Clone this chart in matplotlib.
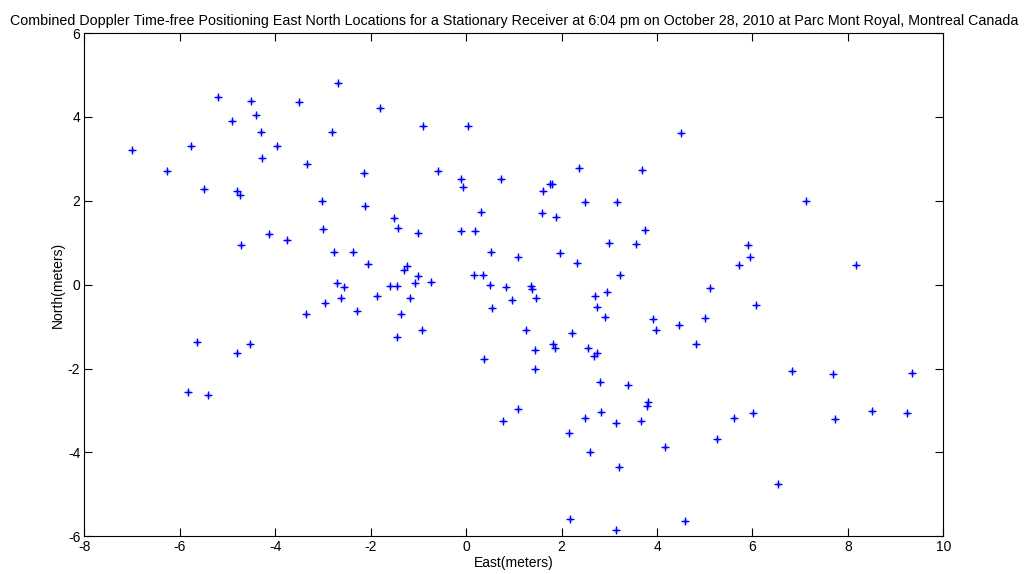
import matplotlib
matplotlib.use("Agg")
import matplotlib.pyplot as plt

plt.rcParams['font.family'] = ['Liberation Sans', 'DejaVu Sans']
plt.rcParams['axes.unicode_minus'] = False

# east / north position fixes (meters)
east = [-2.69, -5.20, -4.51, -3.50, -4.41, -4.91, -4.31, -2.82, -7.00, -5.77,
        -3.97, -4.27, -3.33, -2.15, -6.27, -5.50, -4.80, -4.74, -3.02, -2.12,
        -3.01, -4.13, -3.76, -4.71, -2.76, -2.37, -2.05, -2.71, -2.55,
        -1.81, -0.91, 0.03, -0.58, -0.11, -0.06, 0.74, 2.36, 3.68, 1.60,
        1.76, 1.80, 2.48, 3.16, -1.51, -1.42, -1.01, 0.32, -0.11, 0.19,
        1.58, 1.89, 3.75, 2.99, 3.55, 0.53, 1.08, 1.96, 2.32, -1.25,
        -1.31, -1.00, -1.08, -0.74, 0.17, 0.36, 3.23, -1.60, -1.46, 0.49,
        0.83, 1.35,
        4.51, 7.13, 5.91, 5.94, 5.71, 8.16, 5.10,
        -2.62, -2.95, -3.35, -2.28, -5.64, -4.53, -4.81, -5.83, -5.42,
        -1.86, -1.17, -1.36, -0.93, -1.44, 1.38, 0.96, 1.46, 0.55, 2.70,
        2.95, 2.75, 2.92, 3.92, 3.98, 1.25, 2.21, 1.82, 1.86, 1.44,
        2.55, 2.67, 2.75, 0.38, 1.44, 2.81, 3.40, 3.82, 3.78, 1.08,
        0.78, 2.49, 2.83, 3.13, 3.67, 2.15, 2.60, 3.21, 2.17, 3.13,
        6.08, 4.46, 5.00, 4.82, 6.83, 7.68, 9.35, 8.51, 7.74, 9.24,
        5.62, 6.01, 5.25, 4.17, 6.53, 4.58]
north = [4.81, 4.47, 4.38, 4.35, 4.04, 3.89, 3.65, 3.65, 3.22, 3.30,
         3.30, 3.01, 2.87, 2.66, 2.71, 2.28, 2.24, 2.13, 2.00, 1.88,
         1.32, 1.21, 1.07, 0.95, 0.77, 0.77, 0.49, 0.04, -0.06,
         4.22, 3.78, 3.78, 2.70, 2.53, 2.32, 2.51, 2.79, 2.74, 2.24,
         2.40, 2.40, 1.98, 1.98, 1.58, 1.35, 1.23, 1.73, 1.29, 1.29,
         1.72, 1.61, 1.31, 1.00, 0.98, 0.77, 0.65, 0.75, 0.52, 0.45,
         0.34, 0.20, 0.05, 0.07, 0.24, 0.23, 0.22, -0.03, -0.04, -0.01,
         -0.06, -0.04,
         3.62, 2.00, 0.94, 0.67, 0.46, 0.47, -0.09,
         -0.33, -0.44, -0.71, -0.63, -1.36, -1.42, -1.64, -2.55, -2.62,
         -0.27, -0.33, -0.71, -1.07, -1.25, -0.10, -0.36, -0.31, -0.56, -0.27,
         -0.17, -0.53, -0.76, -0.83, -1.09, -1.09, -1.15, -1.41, -1.52, -1.56,
         -1.52, -1.71, -1.62, -1.78, -2.00, -2.33, -2.39, -2.79, -2.90, -2.97,
         -3.26, -3.18, -3.04, -3.29, -3.24, -3.53, -3.99, -4.35, -5.58, -5.84,
         -0.49, -0.96, -0.80, -1.41, -2.07, -2.13, -2.11, -3.01, -3.21, -3.07,
         -3.17, -3.07, -3.69, -3.86, -4.75, -5.64]

xticks = list(range(-8, 11, 2))
yticks = list(range(-6, 7, 2))

fig = plt.figure(figsize=(10.25, 5.74), dpi=100)
ax = fig.add_axes([0.0824, 0.0657, 0.8379, 0.8768])

# light asterisk: solid plus with faint diagonal arms
ax.plot(east, north, linestyle='none', marker='x', color='blue',
        markersize=3.5, markeredgewidth=0.8, alpha=0.35)
ax.plot(east, north, linestyle='none', marker='+', color='blue',
        markersize=6, markeredgewidth=1.0)

ax.set_xlim(-8, 10)
ax.set_ylim(-6, 6)
ax.set_xticks(xticks)
ax.set_yticks(yticks)
ax.tick_params(direction='in', top=True, right=True, length=6, width=0.8,
               labelsize=10, colors='black', pad=3)
for s in ax.spines.values():
    s.set_linewidth(0.8)

ax.set_xlabel('East(meters)', fontsize=10, labelpad=1)
ax.set_ylabel('North(meters)', fontsize=10, labelpad=2)
ax.set_title('Combined Doppler Time-free Positioning East North Locations for a '
             'Stationary Receiver at 6:04 pm on October 28, 2010 at Parc Mont '
             'Royal, Montreal Canada', fontsize=10.3, pad=6)

fig.savefig('out.png', dpi=100)
